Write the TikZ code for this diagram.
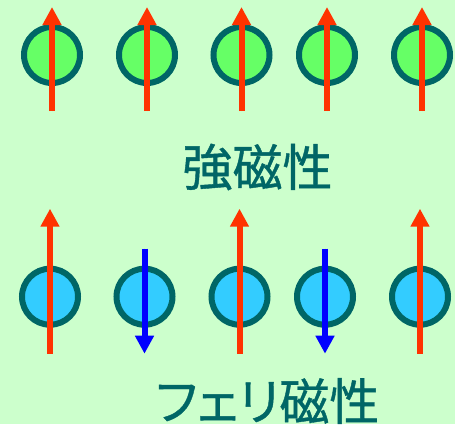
\documentclass[tikz,border=0pt]{standalone}
\usepackage{fontspec}
\newfontfamily\jpfont[FakeBold=0.8, RawFeature=+palt]{Noto Sans CJK JP}
\usetikzlibrary{arrows.meta}
\definecolor{bgcol}{HTML}{CCFFCC}
\definecolor{rimcol}{HTML}{006666}
\definecolor{greenatom}{HTML}{66FF66}
\definecolor{blueatom}{HTML}{33CCFF}
\definecolor{spinred}{HTML}{FF3300}
\definecolor{spinblue}{HTML}{0000FF}
\tikzset{
  atom/.style={circle, draw=rimcol, line width=6pt, minimum size=56pt, inner sep=0pt},
  ferroatom/.style={atom, fill=greenatom},
  ferriatom/.style={atom, fill=blueatom},
  spin/.style={line width=6pt, -{Triangle[width=18pt,length=18pt]}},
  spinup/.style={spin, draw=spinred, fill=spinred},
  spindown/.style={spin, draw=spinblue, fill=spinblue},
  caption/.style={text=rimcol, font=\jpfont\fontsize{50}{56}\selectfont, inner sep=0pt}
}
\begin{document}
\begin{tikzpicture}[x=1pt, y=-1pt]
  \fill[bgcol] (0,0) rectangle (455,424);
  \useasboundingbox (0,0) rectangle (455,424);

  % ferromagnet: all spins parallel
  \foreach \i/\x in {1/52, 2/147, 3/241.5, 4/327, 5/422} {
    \node[ferroatom] (f\i) at (\x,55) {};
    \draw[spinup] ([yshift=-56pt]f\i.center) -- ([yshift=48pt]f\i.center);
  }
  \node[caption] (ferrolabel) at (257.5,167) {強磁性};

  % ferrimagnet: unequal antiparallel spins
  \foreach \i/\x in {1/50, 2/144.5, 3/239.5, 4/325, 5/420} {
    \node[ferriatom] (r\i) at (\x,296.7) {};
  }
  \foreach \i in {1,3,5} {
    \draw[spinup] ([yshift=-57pt]r\i.center) -- ([yshift=88pt]r\i.center);
  }
  \foreach \i in {2,4} {
    \draw[spindown] ([yshift=48pt]r\i.center) -- ([yshift=-57pt]r\i.center);
  }
  \node[caption] (ferrilabel) at (267.5,401) {フェリ磁性};
\end{tikzpicture}
\end{document}
